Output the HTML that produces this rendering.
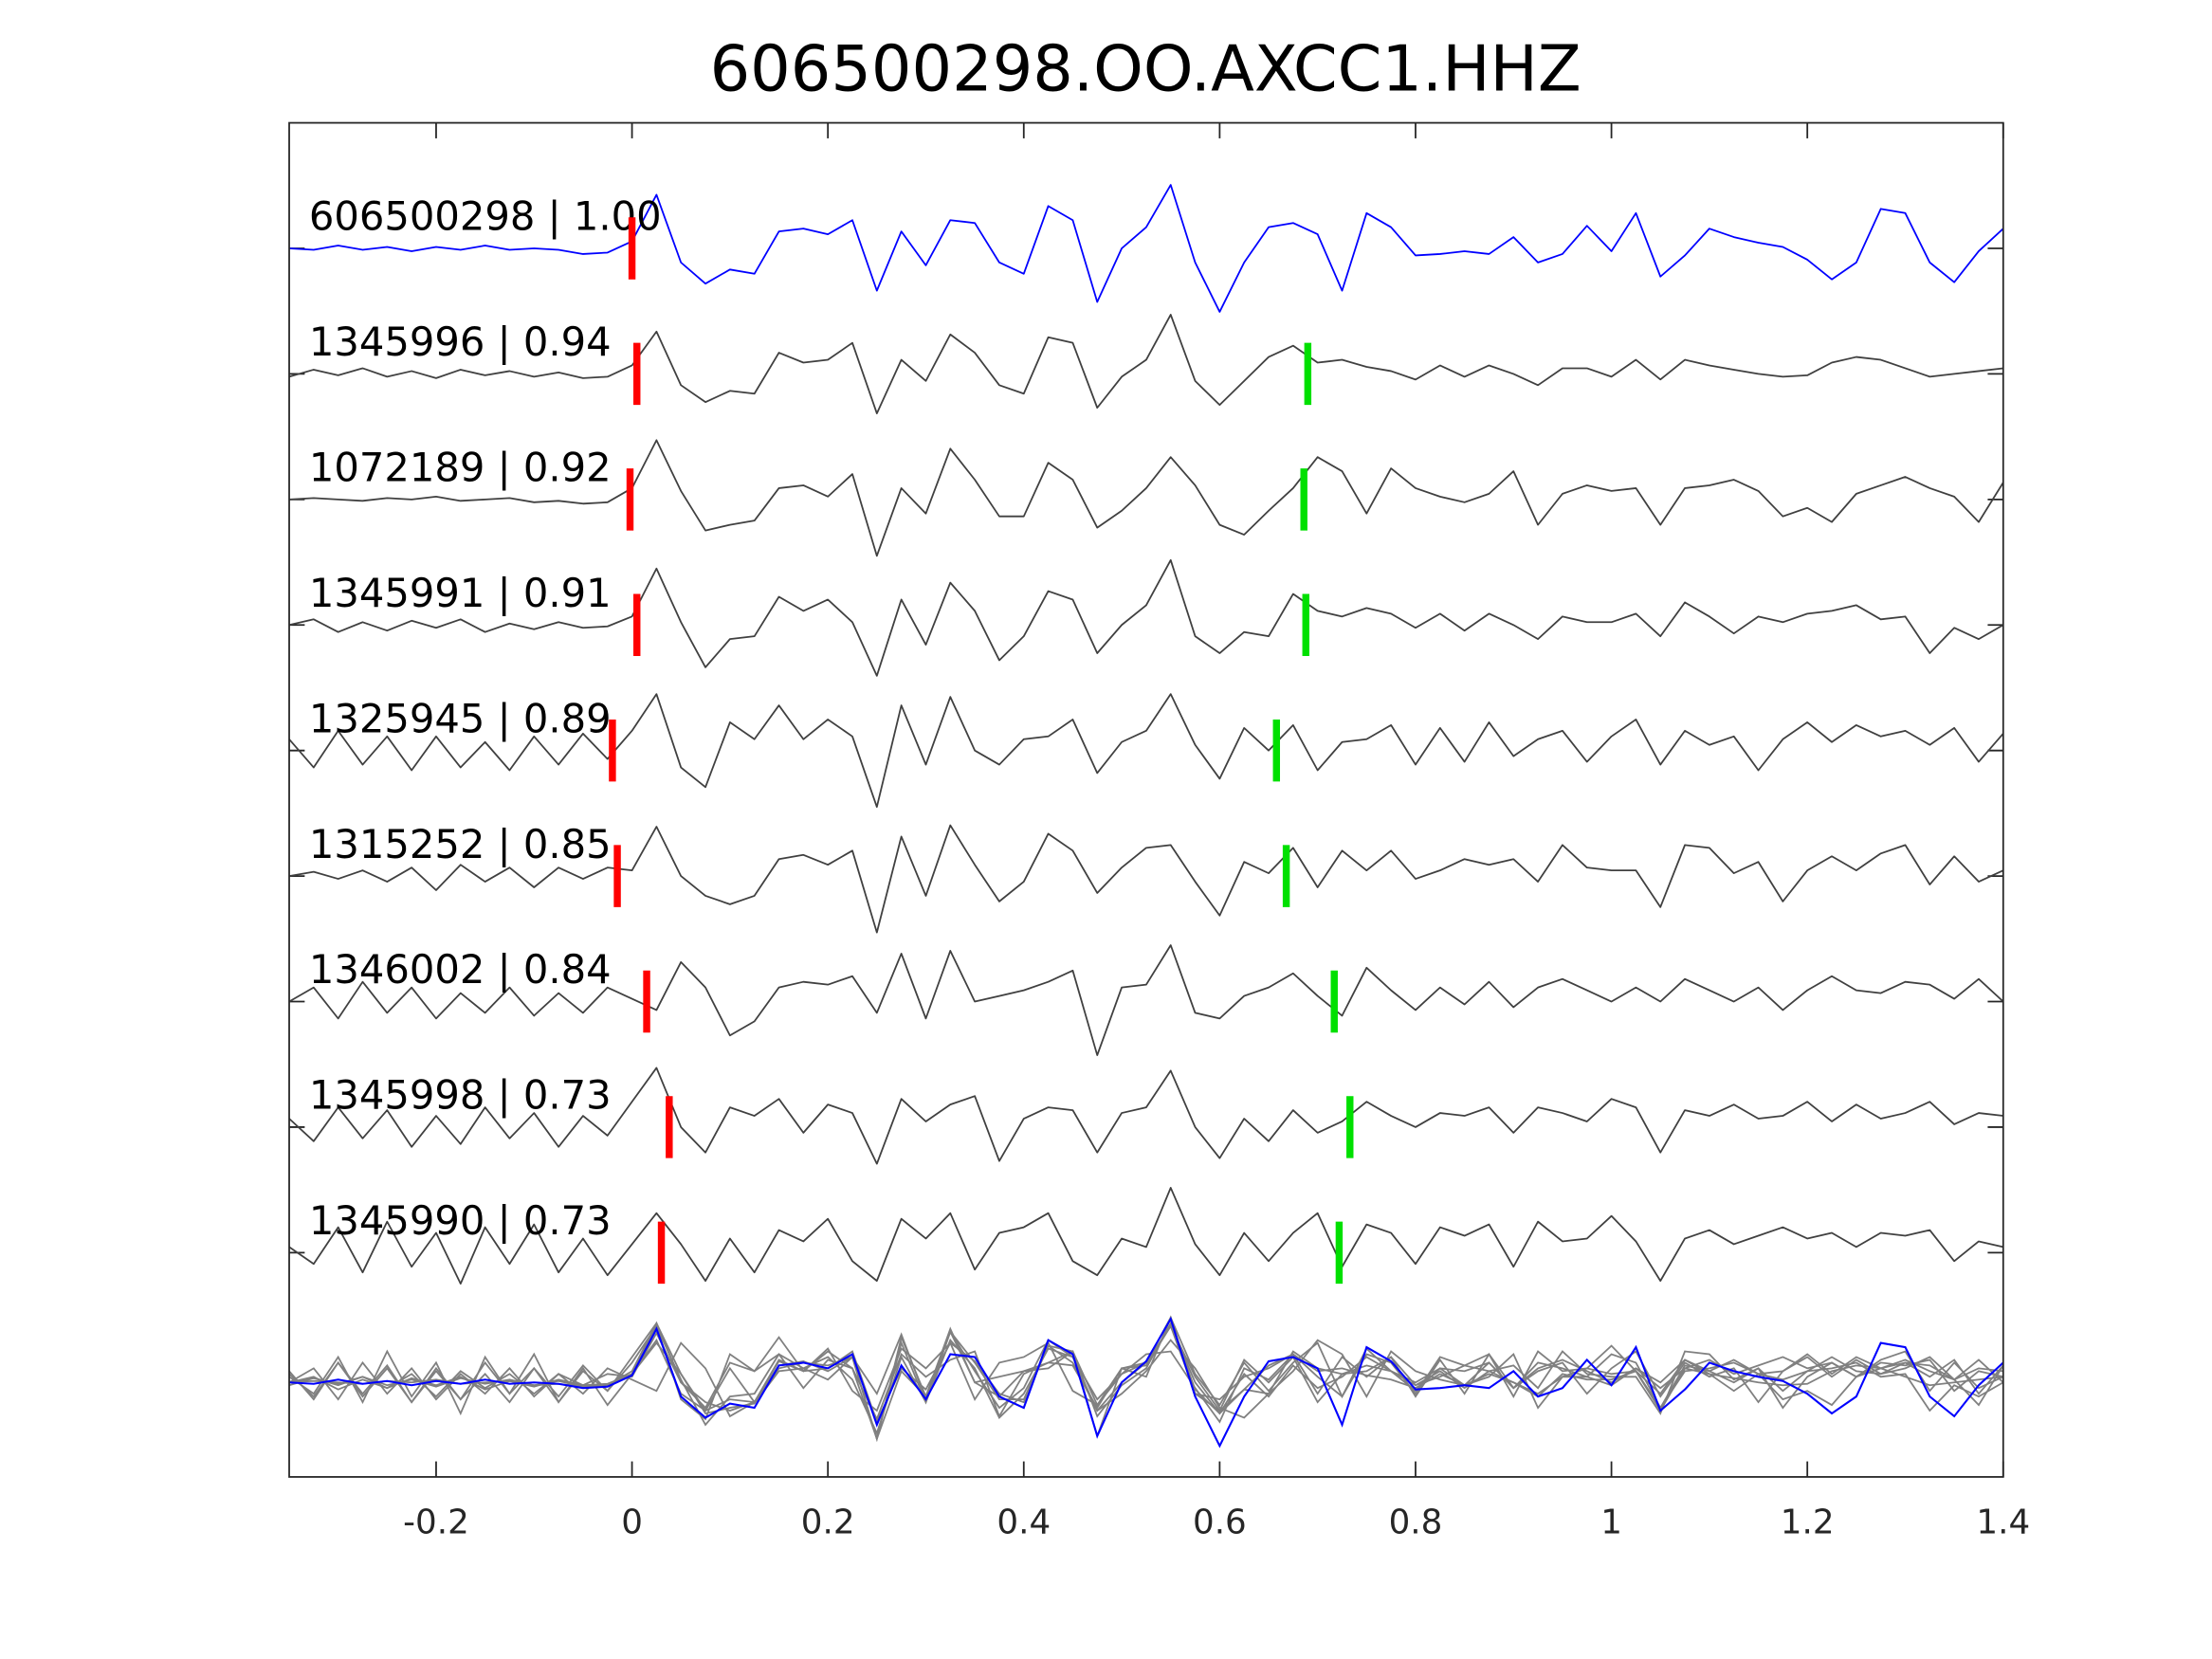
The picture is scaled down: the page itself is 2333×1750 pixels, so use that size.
<!DOCTYPE html>
<html><head><meta charset="utf-8"><style>
html,body{margin:0;padding:0;background:#fff;}
svg{display:block;}
text{font-family:"DejaVu Sans","Liberation Sans",sans-serif;}
</style></head><body>
<svg id="chart" width="2333" height="1750" viewBox="0 0 1568 1176" xmlns="http://www.w3.org/2000/svg">
<rect x="0" y="0" width="1568" height="1176" fill="#fff"/>
<text x="812" y="64" font-size="45" text-anchor="middle" fill="#000">606500298.OO.AXCC1.HHZ</text>
<g id="plot"></g>
<rect x="205" y="87" width="1215" height="960" fill="none" stroke="#262626" stroke-width="1.2"/>
</svg>
<script>
const tStart = -0.35, tStep = 0.025;
const traceLabels = ["606500298 | 1.00","1345996 | 0.94","1072189 | 0.92","1345991 | 0.91","1325945 | 0.89","1315252 | 0.85","1346002 | 0.84","1345998 | 0.73","1345990 | 0.73"];
const redPicks = [0.0,0.005,-0.002,0.005,-0.02,-0.015,0.015,0.038,0.03];
const greenPicks = [null,0.69,0.686,0.688,0.658,0.668,0.717,0.733,0.722];
const xTicks = [-0.2,0,0.2,0.4,0.6,0.8,1,1.2,1.4];
const xTickLabels = ["-0.2","0","0.2","0.4","0.6","0.8","1","1.2","1.4"];
const trace0 = [0,1,-2,1,-1,2,-1,1,-2,1,0,1,4,3,-5,-38,10,25,15,18,-12,-14,-10,-20,30,-12,12,-20,-18,10,18,-30,-20,38,0,-15,-45,10,45,10,-15,-18,-10,30,-25,-15,5,4,2,4,-8,10,4,-16,2,-25,20,5,-14,-8,-4,-1,8,22,10,-28,-25,10,24,2,-14];
const trace1 = [2,-3,1,-4,2,-2,3,-3,1,-2,2,-1,3,2,-6,-30,8,20,12,14,-15,-8,-10,-22,28,-10,5,-28,-15,8,14,-26,-22,24,2,-10,-42,5,22,5,-12,-20,-8,-10,-5,-2,4,-6,2,-6,0,8,-4,-4,2,-10,4,-10,-6,-3,0,2,1,-8,-12,-10,-4,2,0,-2,-4];
const trace2 = [0,-1,0,1,-1,0,-2,1,0,-1,2,1,3,2,-8,-42,-6,22,18,15,-8,-10,-2,-18,40,-8,10,-36,-14,12,12,-26,-14,20,8,-8,-30,-10,18,25,8,-8,-30,-20,10,-22,-8,-2,2,-4,-20,18,-4,-10,-6,-8,18,-8,-10,-14,-6,12,6,16,-4,-10,-16,-8,-2,16,-12];
const trace3 = [0,-4,5,-2,4,-3,2,-4,5,-1,3,-2,2,1,-6,-40,-2,30,10,8,-20,-10,-18,-2,36,-18,14,-30,-10,25,8,-24,-18,20,0,-14,-46,8,20,5,8,-22,-10,-6,-12,-8,2,-8,4,-8,0,10,-6,-2,-2,-8,8,-16,-6,6,-6,-2,-8,-10,-14,-4,-6,20,2,10,0];
const trace4 = [-8,12,-14,10,-10,14,-10,12,-6,14,-10,10,-12,6,-14,-40,12,26,-20,-8,-32,-8,-22,-10,40,-32,10,-38,0,10,-8,-10,-22,16,-6,-14,-40,-4,20,-16,0,-18,14,-6,-8,-18,10,-16,8,-20,4,-8,-14,8,-10,-22,10,-14,-4,-10,14,-8,-20,-6,-18,-10,-14,-4,-16,8,-12];
const trace5 = [0,-3,2,-4,4,-6,10,-8,4,-6,8,-6,2,-6,-4,-35,0,14,20,14,-12,-15,-8,-18,40,-28,14,-36,-8,18,4,-30,-18,12,-6,-20,-22,4,28,-10,-2,-20,8,-18,-4,-18,2,-4,-12,-8,-12,4,-22,-6,-4,-4,22,-22,-20,-2,-10,18,-4,-14,-4,-16,-22,6,-14,4,-4];
const trace6 = [0,-10,12,-14,8,-10,12,-6,8,-10,10,-6,8,-10,-2,6,-28,-10,24,14,-10,-14,-12,-18,8,-34,12,-36,0,-4,-8,-14,-22,38,-10,-12,-40,8,12,-4,-10,-20,-4,10,-24,-8,6,-10,2,-14,4,-10,-16,-8,0,-10,0,-16,-8,0,-10,6,-8,-18,-8,-6,-14,-12,-2,-16,0];
const trace7 = [-6,10,-14,8,-12,14,-8,12,-14,8,-10,14,-8,6,-18,-42,0,18,-14,-8,-20,4,-16,-10,26,-20,-4,-16,-22,24,-6,-14,-12,18,-10,-14,-40,0,22,-6,10,-12,4,-4,-18,-8,0,-10,-8,-14,4,-14,-10,-4,-20,-14,18,-12,-8,-16,-6,-8,-18,-4,-16,-6,-10,-18,-2,-10,-8];
const trace8 = [-4,8,-18,14,-22,10,-14,22,-18,8,-20,14,-10,16,-6,-28,-6,20,-10,14,-16,-8,-24,6,20,-24,-10,-28,12,-14,-18,-28,6,16,-10,-4,-46,-6,16,-14,6,-14,-28,10,-20,-14,8,-18,-12,-20,10,-22,-8,-10,-26,-8,20,-10,-16,-6,-12,-18,-10,-14,-4,-14,-12,-16,6,-8,-4];
const traces = [trace0,trace1,trace2,trace3,trace4,trace5,trace6,trace7,trace8];

const x0 = 205, x1 = 1420, tMin = -0.35, tMax = 1.4;
function xScale(t){ return x0 + (t - tMin) / (tMax - tMin) * (x1 - x0); }
const baseTop = 176, baseGap = 89, stackBase = 980;
function yScale(v, base){ return base + v; }
const NS = "http://www.w3.org/2000/svg";
const g = document.getElementById("plot");
function mk(tag, attrs){ const e = document.createElementNS(NS, tag); for (const k in attrs) e.setAttribute(k, attrs[k]); g.appendChild(e); return e; }
function pathFor(arr, base){
  let d = "";
  arr.forEach((v,i)=>{ const t = tStart + i*tStep; if (t > tMax + 1e-9) return; d += (i?"L":"M") + xScale(t).toFixed(2) + "," + yScale(v, base).toFixed(2); });
  return d;
}
xTicks.forEach((t,i)=>{
  const tk = mk("line",{x1:xScale(t),x2:xScale(t),y1:1047,y2:1036,stroke:"#262626","stroke-width":1.2});
  
  
  const tt = mk("line",{x1:xScale(t),x2:xScale(t),y1:87,y2:98,stroke:"#262626","stroke-width":1.2});
  
  
  const lb = mk("text",{x:xScale(t),y:1087,"font-size":24,"text-anchor":"middle",fill:"#262626"});
  lb.textContent = xTickLabels[i];
  
  
});
traces.forEach((arr,k)=>{
  const base = baseTop + k*baseGap;
  const tl = mk("line",{x1:205,x2:216,y1:base,y2:base,stroke:"#262626","stroke-width":1.2});
  
  
  const tr = mk("line",{x1:1409,x2:1420,y1:base,y2:base,stroke:"#262626","stroke-width":1.2});
  
  
  const p = mk("path",{d:pathFor(arr,base),fill:"none",stroke:k===0?"#0000ff":"#404040","stroke-width":1.2,"stroke-linejoin":"round"});
  
  
  const lb = mk("text",{x:219,y:base-13,"font-size":28,fill:"#000"});
  lb.textContent = traceLabels[k];
  
  
  const r = mk("line",{x1:xScale(redPicks[k]),x2:xScale(redPicks[k]),y1:base-22,y2:base+22,stroke:"#ff0000","stroke-width":5});
  
  
  if (greenPicks[k] !== null){
    const gr = mk("line",{x1:xScale(greenPicks[k]),x2:xScale(greenPicks[k]),y1:base-22,y2:base+22,stroke:"#00e000","stroke-width":5});
    
    
  }
});
for (let k=1;k<traces.length;k++){
  const p = mk("path",{d:pathFor(traces[k],stackBase),fill:"none",stroke:"#808080","stroke-width":1.2});
  
  
}
const pb = mk("path",{d:pathFor(traces[0],stackBase),fill:"none",stroke:"#0000ff","stroke-width":1.4});


</script>
</body></html>
